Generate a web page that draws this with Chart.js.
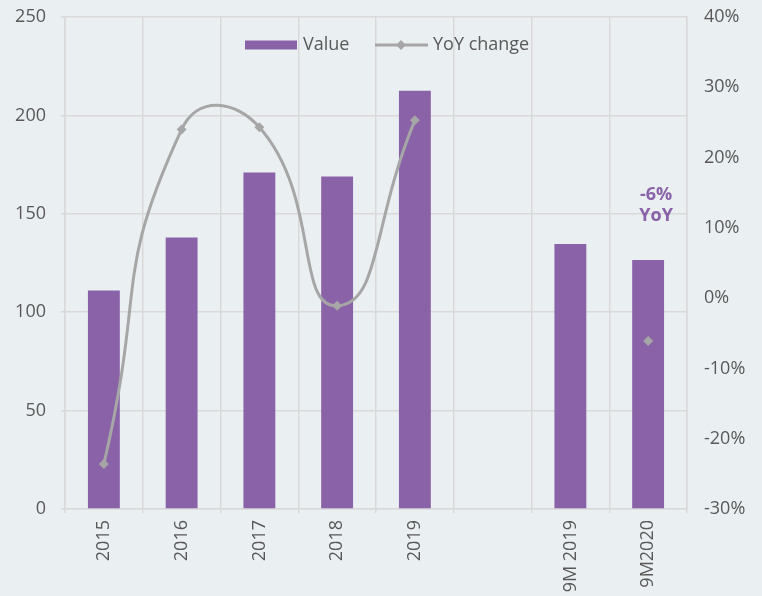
<!DOCTYPE html>
<html>
<head>
<meta charset="utf-8">
<script src="https://cdn.jsdelivr.net/npm/chart.js@4"></script>
<style>
  html, body { margin: 0; padding: 0; background: #eaeff2; }
  #wrap { width: 762px; height: 596px; position: relative; }
</style>
</head>
<body>
<div id="wrap"><canvas id="valueChart"></canvas></div>
<script>
// categories (the empty one keeps a gap between full years and 9M figures)
const periods = ['2015', '2016', '2017', '2018', '2019', '', '9M 2019', '9M2020'];
const values = [111, 138, 171, 169, 212.5, null, 134.7, 126.5];
const yoyChange = [-23.6, 24.0, 24.3, -1.1, 25.3, null, null, -6.1];

const leftTicks = [0, 50, 100, 150, 200, 250];
const rightTicks = [-30, -20, -10, 0, 10, 20, 30, 40];

const purple = '#8a62a8';
const grey = '#a6a6a6';
const textGrey = '#595959';
const gridGrey = '#d9d9d9';
const fontFamily = '"Open Sans", "Noto Sans", sans-serif';
const fontSize = 18;

// legend drawn inside the plot, over the grid
const insideLegend = {
    id: 'insideLegend',
    afterDatasetsDraw(chart) {
        const ctx = chart.ctx;
        const y = chart.chartArea.top + 28;
        ctx.save();
        ctx.font = `${fontSize}px ${fontFamily}`;
        ctx.textBaseline = 'middle';

        // bar sample
        ctx.fillStyle = purple;
        ctx.fillRect(245, y - 4.5, 52, 9);
        ctx.fillStyle = textGrey;
        ctx.fillText(chart.data.datasets[1].label, 303, y);

        // line sample with marker
        ctx.strokeStyle = grey;
        ctx.lineWidth = 3;
        ctx.beginPath();
        ctx.moveTo(375, y);
        ctx.lineTo(428, y);
        ctx.stroke();
        ctx.fillStyle = grey;
        ctx.beginPath();
        ctx.moveTo(401, y - 5);
        ctx.lineTo(406, y);
        ctx.lineTo(401, y + 5);
        ctx.lineTo(396, y);
        ctx.closePath();
        ctx.fill();
        ctx.fillStyle = textGrey;
        ctx.fillText(chart.data.datasets[0].label, 433, y);
        ctx.restore();
    }
};

// bold note above the last bar, taken from the last YoY value
const lastNote = {
    id: 'lastNote',
    afterDatasetsDraw(chart) {
        const idx = periods.length - 1;
        const bar = chart.getDatasetMeta(1).data[idx];
        if (!bar) return;
        const ctx = chart.ctx;
        ctx.save();
        ctx.font = `bold ${fontSize}px ${fontFamily}`;
        ctx.fillStyle = purple;
        ctx.textAlign = 'center';
        ctx.textBaseline = 'middle';
        const x = bar.x + 8;
        ctx.fillText(Math.round(yoyChange[idx]) + '%', x, bar.y - 65);
        ctx.fillText('YoY', x, bar.y - 44);
        ctx.restore();
    }
};

const tickFont = { family: fontFamily, size: fontSize };

// fixed axis sizes so the plot area sits where it should
function fixVertical(width) {
    return scale => {
        scale.width = width;
        scale.paddingTop = 0;
        scale.paddingBottom = 0;
    };
}

const chart = new Chart(document.getElementById('valueChart'), {
    data: {
        labels: periods,
        datasets: [
            {
                type: 'line',
                label: 'YoY change',
                data: yoyChange,
                yAxisID: 'yPct',
                borderColor: grey,
                backgroundColor: grey,
                borderWidth: 3,
                tension: 0.55,
                spanGaps: false,
                pointStyle: 'rectRot',
                pointRadius: 5,
                pointHoverRadius: 5,
                pointBorderWidth: 0,
                order: 0
            },
            {
                type: 'bar',
                label: 'Value',
                data: values,
                yAxisID: 'y',
                backgroundColor: purple,
                barPercentage: 0.41,
                categoryPercentage: 1,
                order: 1
            }
        ]
    },
    options: {
        responsive: true,
        maintainAspectRatio: false,
        animation: false,
        layout: { padding: { top: 17, left: 0, right: 0, bottom: 0 } },
        scales: {
            x: {
                offset: true,
                grid: { color: gridGrey, offset: true, tickLength: 4, lineWidth: 1.5 },
                border: { color: gridGrey, width: 1.5 },
                ticks: {
                    color: textGrey,
                    font: tickFont,
                    minRotation: 90,
                    maxRotation: 90,
                    autoSkip: false,
                    padding: 7
                },
                afterFit(scale) {
                    scale.height = 87;
                    scale.paddingLeft = 0;
                    scale.paddingRight = 0;
                }
            },
            y: {
                position: 'left',
                min: 0,
                max: 250,
                afterBuildTicks(scale) { scale.ticks = leftTicks.map(v => ({ value: v })); },
                grid: { color: gridGrey, tickLength: 4, lineWidth: 1.5 },
                border: { color: gridGrey, width: 1.5 },
                ticks: {
                    color: textGrey,
                    font: tickFont,
                    padding: 15
                },
                afterFit: fixVertical(65)
            },
            yPct: {
                position: 'right',
                min: -30,
                max: 40,
                afterBuildTicks(scale) { scale.ticks = rightTicks.map(v => ({ value: v })); },
                grid: { display: false, drawTicks: false },
                border: { color: gridGrey, width: 1.5 },
                ticks: {
                    color: textGrey,
                    font: tickFont,
                    padding: 17,
                    callback: v => v + '%'
                },
                afterFit: fixVertical(75)
            }
        },
        plugins: {
            legend: { display: false },
            tooltip: { enabled: false }
        }
    },
    plugins: [insideLegend, lastNote]
});
</script>
</body>
</html>
